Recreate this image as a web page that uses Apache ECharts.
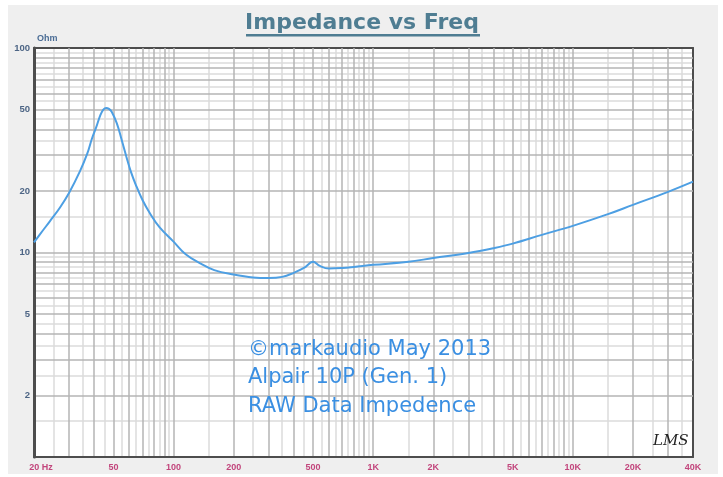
<!DOCTYPE html>
<html>
<head>
<meta charset="utf-8">
<title>Impedance vs Freq</title>
<script src="https://cdn.jsdelivr.net/npm/echarts@6/dist/echarts.min.js"></script>
<style>
html, body { margin: 0; padding: 0; background: #fff; }
#chart { width: 723px; height: 477px; }
</style>
</head>
<body>
<div id="chart"></div>
<script>
// impedance curve (Hz -> Ohm)
const freqs = [20, 22, 24, 27, 30, 34, 37, 39, 41, 43, 44.5, 46, 47.5, 49, 52, 55, 58, 61, 65, 70, 76,
  85, 100, 115, 136, 160, 200, 250, 300, 350, 400, 450, 500, 540, 600, 700, 800, 1000, 1500,
  2000, 3000, 4000, 5000, 7000, 10000, 15000, 20000, 30000, 40000];
const ohms = [11.2, 12.7, 14.2, 16.6, 19.6, 25, 30.5, 36, 41, 47, 50, 50.9, 50.4, 48.8, 42.8, 35.5, 29.5,
  25, 21.2, 18, 15.6, 13.3, 11.3, 9.8, 8.85, 8.2, 7.8, 7.55, 7.5, 7.6, 7.95, 8.4, 9.0, 8.6,
  8.35, 8.4, 8.5, 8.7, 9.0, 9.4, 9.95, 10.5, 11.05, 12.2, 13.5, 15.4, 17.1, 19.8, 22.2];

const xTickValues = [20, 50, 100, 200, 500, 1000, 2000, 5000, 10000, 20000, 40000];
const xTickLabels = ['20 Hz', '50', '100', '200', '500', '1K', '2K', '5K', '10K', '20K', '40K'];
const yTickValues = [2, 5, 10, 20, 50, 100];

const notes = ['©markaudio May 2013', 'Alpair 10P (Gen. 1)', 'RAW Data Impedence'];

// log grid: whole steps darker, half steps lighter
const wholeSteps = [1, 2, 3, 4, 5, 6, 7, 8, 9];
const halfSteps = [1.5, 2.5, 3.5, 4.5, 5.5, 6.5, 7.5, 8.5, 9.5];

function gridValues(mults, lo, hi) {
  const out = [];
  for (let p = 0; p <= 5; p++) {
    mults.forEach(m => {
      const v = m * Math.pow(10, p);
      if (v > lo && v < hi) out.push(v);
    });
  }
  return out;
}

function xLabel(v) {
  for (let i = 0; i < xTickValues.length; i++) {
    if (Math.abs(Math.log10(v) - Math.log10(xTickValues[i])) < 1e-6) {
      // first label sits a bit right of the corner
      return i === 0 ? '{first|' + xTickLabels[i] + '}' : xTickLabels[i];
    }
  }
  return '';
}

const chart = echarts.init(document.getElementById('chart'));

const edge = { show: true, lineStyle: { color: '#4d4d4d', width: 2 } };

chart.setOption({
  animation: false,
  backgroundColor: '#fff',
  grid: {
    left: 34, right: 30, top: 48, bottom: 20,
    show: true, backgroundColor: '#fff', borderWidth: 0
  },
  graphic: [
    { type: 'rect', z: -10, silent: true, shape: { x: 8, y: 5, width: 710, height: 469 },
      style: { fill: '#efefef' } },
    { type: 'text', x: 362, y: 23, silent: true,
      style: { text: 'Impedance vs Freq', fill: '#4f7d92', font: 'bold 22px "DejaVu Sans"',
        textAlign: 'center', textVerticalAlign: 'middle' } },
    { type: 'rect', silent: true, shape: { x: 246, y: 34, width: 234, height: 2.5 },
      style: { fill: '#4f7d92' } },
    { type: 'text', x: 37, y: 39, silent: true,
      style: { text: 'Ohm', fill: '#4a6c95', font: 'bold 9px "Liberation Sans"',
        textVerticalAlign: 'middle' } },
    { type: 'text', x: 248, y: 335, z: 10, silent: true,
      style: { text: notes.join('\n'), fill: '#3a8fe2', font: '21px "DejaVu Sans"',
        lineHeight: 28.5, textVerticalAlign: 'top' } },
    { type: 'text', x: 653, y: 441, z: 10, silent: true,
      style: { text: 'LMS', fill: '#222', font: 'italic 15px "DejaVu Serif"',
        textVerticalAlign: 'middle' } }
  ],
  xAxis: [
    {
      type: 'log', logBase: 10, min: 20, max: 40000, position: 'bottom', z: 2,
      axisLine: edge,
      axisTick: { show: false, customValues: gridValues(wholeSteps, 20, 40000) },
      splitLine: { show: true, lineStyle: { color: '#b5b5b5', width: 1.5 } },
      axisLabel: {
        customValues: xTickValues, formatter: xLabel, margin: 6,
        color: '#c2457c', fontSize: 9, fontWeight: 'bold', fontFamily: 'Liberation Sans',
        rich: {
          first: { padding: [0, 0, 0, 14], color: '#c2457c', fontSize: 9, fontWeight: 'bold',
            fontFamily: 'Liberation Sans' }
        }
      }
    },
    {
      type: 'log', logBase: 10, min: 20, max: 40000, position: 'top', z: 1,
      axisLine: edge,
      axisTick: { show: false, customValues: gridValues(halfSteps, 20, 40000) },
      splitLine: { show: true, lineStyle: { color: '#dbdbdb', width: 1.5 } },
      axisLabel: { show: false }
    }
  ],
  yAxis: [
    {
      type: 'log', logBase: 10, min: 1, max: 100, position: 'left', z: 2,
      axisLine: { show: true, lineStyle: { color: '#4d4d4d', width: 3 } },
      axisTick: { show: false, customValues: gridValues(wholeSteps, 1, 100) },
      splitLine: { show: true, lineStyle: { color: '#b5b5b5', width: 1.5 } },
      axisLabel: {
        customValues: yTickValues, margin: 4,
        color: '#4d6585', fontSize: 9.5, fontWeight: 'bold', fontFamily: 'Liberation Sans'
      }
    },
    {
      type: 'log', logBase: 10, min: 1, max: 100, position: 'right', z: 1,
      axisLine: edge,
      axisTick: { show: false, customValues: gridValues(halfSteps, 1, 100) },
      splitLine: { show: true, lineStyle: { color: '#dbdbdb', width: 1.5 } },
      axisLabel: { show: false }
    }
  ],
  series: [
    {
      type: 'line',
      xAxisIndex: 0, yAxisIndex: 0,
      data: freqs.map((f, i) => [f, ohms[i]]),
      showSymbol: false,
      smooth: 0.4,
      z: 5,
      lineStyle: { color: '#4d9fe3', width: 2 }
    }
  ]
});
</script>
</body>
</html>
